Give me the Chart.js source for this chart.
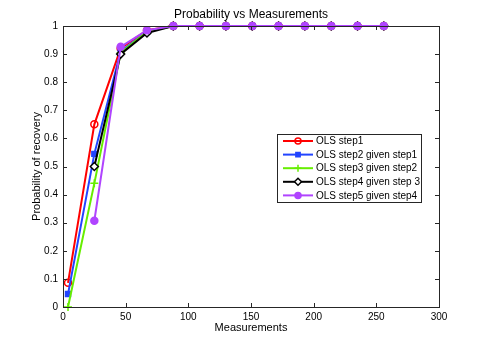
<!DOCTYPE html>
<html>
<head>
<meta charset="utf-8">
<script src="https://cdn.jsdelivr.net/npm/chart.js@4"></script>
<style>
  body { margin: 0; background: #fff; }
  canvas { display: block; }
</style>
</head>
<body>
<canvas id="myChart" width="485" height="346"></canvas>
<script>
// values
var measurements = [4, 25, 46, 67, 88, 109, 130, 151, 172, 193, 214, 235, 256];
var step1 = [0.086, 0.65, 0.92, 0.985, 1, 1, 1, 1, 1, 1, 1, 1, 1];
var step2 = [0.046, 0.545, 0.91, 0.98, 1, 1, 1, 1, 1, 1, 1, 1, 1];
var step3 = [0, 0.44, 0.905, 0.98, 1, 1, 1, 1, 1, 1, 1, 1, 1];
var step4 = [null, 0.5, 0.9, 0.975, 1, 1, 1, 1, 1, 1, 1, 1, 1];
var step5 = [null, 0.307, 0.926, 0.985, 1, 1, 1, 1, 1, 1, 1, 1, 1];
var seriesNames = ['OLS step1', 'OLS step2 given step1', 'OLS step3 given step2', 'OLS step4 given step 3', 'OLS step5 given step4'];
var xTicks = [0, 50, 100, 150, 200, 250, 300];
var yTicks = [0, 0.1, 0.2, 0.3, 0.4, 0.5, 0.6, 0.7, 0.8, 0.9, 1];

function pts(vals) {
	var out = [];
	for (var i = 0; i < measurements.length; i++) {
		out.push({x: measurements[i], y: vals[i]});
	}
	return out;
}

var FONT = '"Liberation Sans", Arial, sans-serif';
var styles = [
	{color: '#ff0000', style: 'circle', radius: 3.5, fill: 'rgba(0,0,0,0)'},
	{color: '#2244ff', style: 'rect', radius: 3.5, fill: '#2244ff'},
	{color: '#66ee00', style: 'cross', radius: 4, fill: '#66ee00'},
	{color: '#000000', style: 'rectRot', radius: 4, fill: '#ffffff'},
	{color: '#b044ff', style: 'circle', radius: 3.5, fill: '#b044ff'}
];
var allSeries = [step1, step2, step3, step4, step5];

var datasets = [];
for (var s = 0; s < allSeries.length; s++) {
	datasets.push({
		label: seriesNames[s],
		data: pts(allSeries[s]),
		borderColor: styles[s].color,
		backgroundColor: styles[s].fill,
		borderWidth: 2,
		pointStyle: styles[s].style,
		pointRadius: styles[s].radius,
		pointBorderWidth: 1.5,
		pointBorderColor: styles[s].color,
		pointBackgroundColor: styles[s].fill,
		spanGaps: false,
		clip: false,
		order: 5 - s
	});
}

// matlab style box, inward ticks and legend
var boxPlugin = {
	id: 'matlabBox',
	afterDatasetsDraw: function(chart) {
		var c = chart.ctx, a = chart.chartArea;
		var xs = chart.scales.x, ys = chart.scales.y;
		c.save();
		c.strokeStyle = '#262626';
		c.lineWidth = 1;
		c.beginPath();
		xTicks.forEach(function(v) {
			var px = Math.round(xs.getPixelForValue(v)) + 0.5;
			c.moveTo(px, a.bottom); c.lineTo(px, a.bottom - 4);
			c.moveTo(px, a.top); c.lineTo(px, a.top + 4);
		});
		yTicks.forEach(function(v) {
			var py = Math.round(ys.getPixelForValue(v)) + 0.5;
			c.moveTo(a.left, py); c.lineTo(a.left + 4, py);
			c.moveTo(a.right, py); c.lineTo(a.right - 4, py);
		});
		c.stroke();
		c.strokeRect(Math.round(a.left) + 0.5, Math.round(a.top) + 0.5, Math.round(a.right - a.left), Math.round(a.bottom - a.top));

		// legend
		var lx = 277, ly = 134, lw = 144, lh = 68;
		c.fillStyle = '#fff';
		c.fillRect(lx, ly, lw, lh);
		c.strokeRect(lx + 0.5, ly + 0.5, lw, lh);
		c.font = '10px ' + FONT;
		c.textBaseline = 'middle';
		c.textAlign = 'left';
		for (var i = 0; i < datasets.length; i++) {
			var yy = 141 + i * 13.6;
			var ds = datasets[i];
			c.strokeStyle = ds.borderColor;
			c.lineWidth = 2;
			c.beginPath();
			c.moveTo(283, yy); c.lineTo(313, yy);
			c.stroke();
			c.lineWidth = 1.5;
			c.fillStyle = ds.pointBackgroundColor;
			Chart.helpers.drawPoint(c, {pointStyle: ds.pointStyle, radius: ds.pointRadius - 0.5, rotation: 0, borderWidth: 1.5}, 298, yy);
			c.fillStyle = '#000';
			c.fillText(ds.label, 316, yy + 0.5);
		}
		c.restore();
	}
};

var ctx = document.getElementById('myChart');
var myChart = new Chart(ctx, {
	type: 'line',
	data: {datasets: datasets},
	plugins: [boxPlugin],
	options: {
		responsive: false,
		animation: false,
		devicePixelRatio: 1,
		layout: {padding: {left: 0, right: 46, top: 0, bottom: 0}},
		plugins: {
			legend: {display: false},
			tooltip: {enabled: false},
			title: {
				display: true,
				text: 'Probability vs Measurements',
				fullSize: false,
				color: '#000',
				font: {family: FONT, size: 12, weight: 'normal'},
				padding: {top: 7, bottom: 4.6}
			}
		},
		scales: {
			x: {
				type: 'linear',
				min: 0, max: 300,
				grid: {display: false, drawTicks: false},
				border: {display: false},
				ticks: {stepSize: 50, color: '#000', padding: 4, font: {family: FONT, size: 10}, maxRotation: 0},
				title: {display: true, text: 'Measurements', color: '#000', font: {family: FONT, size: 11}, padding: {top: 0, bottom: 11}},
				afterFit: function(scale) { scale.height = 39; }
			},
			y: {
				min: 0, max: 1,
				grid: {display: false, drawTicks: false},
				border: {display: false},
				ticks: {
					stepSize: 0.1, color: '#000', padding: 5, font: {family: FONT, size: 10},
					callback: function(v) { return String(Math.round(v * 10) / 10); }
				},
				title: {display: true, text: 'Probability of recovery', color: '#000', font: {family: FONT, size: 11}, padding: {top: 30, bottom: 0}},
				afterFit: function(scale) { scale.width = 63; }
			}
		}
	}
});
</script>
</body>
</html>
